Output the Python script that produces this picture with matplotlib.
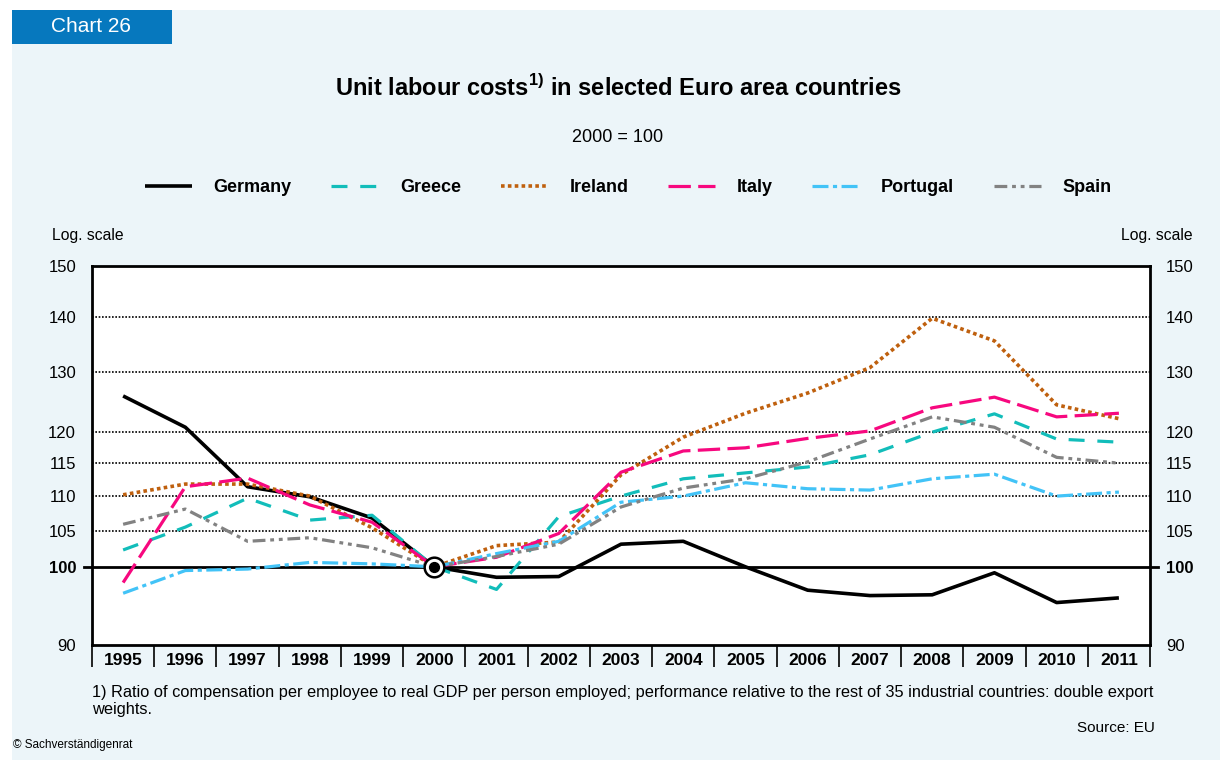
import matplotlib
matplotlib.use('Agg')
import matplotlib.pyplot as plt
import matplotlib.transforms as mtransforms
from matplotlib.patches import Rectangle
from matplotlib.ticker import FixedLocator, NullLocator, FixedFormatter

# unit labour costs, 2000 = 100
years = list(range(1995, 2012))
germany = [125.9, 120.7, 111.4, 109.9, 106.8, 100.0, 98.6, 98.7, 103.1, 103.5,
           100.0, 96.9, 96.2, 96.3, 99.2, 95.3, 95.9]
greece = [102.3, 105.5, 109.7, 106.5, 107.2, 100.0, 97.0, 107.0, 110.0, 112.6,
          113.5, 114.4, 116.3, 119.9, 122.9, 118.8, 118.3]
ireland = [110.2, 111.8, 111.8, 110.0, 105.4, 100.0, 102.9, 103.4, 113.2, 119.1,
           123.0, 126.4, 130.8, 139.8, 135.6, 124.4, 122.1]
italy = [97.9, 111.4, 112.7, 108.7, 106.2, 100.0, 101.3, 104.6, 113.6, 116.9,
         117.4, 118.9, 120.1, 123.9, 125.7, 122.4, 123.0]
portugal = [96.5, 99.5, 99.7, 100.6, 100.4, 100.0, 101.8, 103.5, 109.1, 110.0,
            112.0, 111.1, 110.9, 112.6, 113.3, 110.0, 110.6]
spain = [105.9, 108.1, 103.5, 104.0, 102.6, 100.0, 101.4, 103.1, 108.4, 111.2,
         112.6, 115.2, 118.8, 122.4, 120.7, 115.9, 115.0]

y_ticks = [90, 100, 105, 110, 115, 120, 130, 140, 150]
grid_levels = [105, 110, 115, 120, 130, 140]
base_year, base_value = 2000, 100

series = [
    ('Germany', germany, '#000000', '-', 2.6),
    ('Greece', greece, '#12BDBA', (0, (5, 4)), 2.3),
    ('Ireland', ireland, '#BF600E', (0, (1, 0.9)), 2.6),
    ('Italy', italy, '#F7087F', (0, (7, 2.3)), 2.3),
    ('Portugal', portugal, '#42C3F7', (0, (5, 1.4, 1.3, 1.4)), 2.3),
    ('Spain', spain, '#828282', (0, (4, 1.5, 1.2, 1.5, 1.2, 1.5)), 2.3),
]

BG = '#ECF5F9'
FONT = ['Liberation Sans', 'DejaVu Sans']
NARROW = ['Liberation Sans Narrow', 'Liberation Sans', 'DejaVu Sans']
plt.rcParams['font.family'] = FONT
plt.rcParams['mathtext.fontset'] = 'custom'
plt.rcParams['mathtext.rm'] = 'Liberation Sans'

fig = plt.figure(figsize=(12.2, 7.6), dpi=100, facecolor='white')

# panel background and header badge
fig.add_artist(Rectangle((12 / 1220, 0), 1 - 12 / 1220, 1 - 10 / 760,
                         transform=fig.transFigure, facecolor=BG,
                         edgecolor='none', zorder=-10))
fig.add_artist(Rectangle((12 / 1220, 1 - 44 / 760), 160 / 1220, 34 / 760,
                         transform=fig.transFigure, facecolor='#0678BE',
                         edgecolor='none', zorder=-5))
fig.text(91 / 1220, 1 - 27 / 760, 'Chart 26', color='white', fontsize=15,
         ha='center', va='center')

fig.text(0.507, 1 - 88 / 760,
         r'Unit labour costs$^{\mathregular{1)}}$ in selected Euro area countries',
         fontsize=17, fontweight='bold', ha='center', va='center')
fig.text(0.506, 1 - 138 / 760, '2000 = 100', fontsize=13, ha='center',
         va='center')

ax = fig.add_axes([92 / 1220, 1 - 645 / 760, (1150 - 92) / 1220,
                   (645 - 266) / 760])
ax.set_facecolor('white')

for name, values, color, ls, lw in series:
    ax.plot(years, values, color=color, linestyle=ls, linewidth=lw,
            label=name, zorder=3, dash_capstyle='butt', solid_capstyle='butt')

# base year marker
ax.scatter([base_year], [base_value], s=200, facecolor='white',
           edgecolor='black', linewidth=1.8, zorder=5)
ax.scatter([base_year], [base_value], s=50, color='black', zorder=6)

ax.set_yscale('log')
ax.set_ylim(90, 150)
ax.set_xlim(years[0] - 0.5, years[-1] + 0.5)

for level in grid_levels:
    ax.axhline(level, color='black', linestyle=(0, (1, 1)), linewidth=1.2,
               zorder=1)
# base line runs slightly past the frame
trans = mtransforms.blended_transform_factory(ax.transAxes, ax.transData)
ax.plot([-0.008, 1.008], [base_value, base_value], color='black',
        linewidth=2, transform=trans, clip_on=False, zorder=2)

ax.yaxis.set_major_locator(FixedLocator(y_ticks))
ax.yaxis.set_minor_locator(NullLocator())
ax.yaxis.set_major_formatter(FixedFormatter([str(t) for t in y_ticks]))
ax.tick_params(axis='y', which='both', length=0, labelsize=12, pad=11.5,
               labelleft=True, labelright=True)
ax.get_yticklabels()  # forces the tick objects to be populated
base_tick = ax.yaxis.get_major_ticks()[y_ticks.index(base_value)]
base_tick.label1.set_fontweight('bold')
base_tick.label2.set_fontweight('bold')

# year labels in boxed cells below the frame
ax.set_xticks(years)
ax.set_xticklabels([str(y) for y in years], fontweight='bold', fontsize=12.5,
                   family=NARROW)
ax.tick_params(axis='x', length=0, pad=6)
xtrans = mtransforms.blended_transform_factory(ax.transData, ax.transAxes)
edges = [y - 0.5 for y in years] + [years[-1] + 0.5]
ax.vlines(edges, -0.058, 0, color='black', linewidth=1.2, transform=xtrans,
          clip_on=False)

for side in ax.spines.values():
    side.set_linewidth(2)
    side.set_color('black')

ax.text(-0.038, 1.08, 'Log. scale', transform=ax.transAxes, fontsize=11.3,
        ha='left', va='center')
ax.text(1.04, 1.08, 'Log. scale', transform=ax.transAxes, fontsize=11.3,
        ha='right', va='center')

leg = fig.legend(loc='center', bbox_to_anchor=(0.515, 1 - 188 / 760), ncol=6,
                 frameon=False, handlelength=2.6, handletextpad=1.2,
                 columnspacing=2.2, prop={'family': NARROW, 'weight': 'bold',
                                          'size': 13})

fig.text(92 / 1220, 1 - 701 / 760,
         '1) Ratio of compensation per employee to real GDP per person employed; '
         'performance relative to the rest of 35 industrial countries: double export\n'
         'weights.', fontsize=11.8, family=NARROW, ha='left', va='center',
         linespacing=1.15)
fig.text(1155 / 1220, 1 - 728 / 760, 'Source: EU', fontsize=11,
         family=NARROW, ha='right', va='center')
fig.text(13 / 1220, 1 - 745 / 760, '\u00a9 Sachverst\u00e4ndigenrat',
         fontsize=8.5, ha='left', va='center')

fig.savefig('out.png', dpi=100, facecolor='white')
